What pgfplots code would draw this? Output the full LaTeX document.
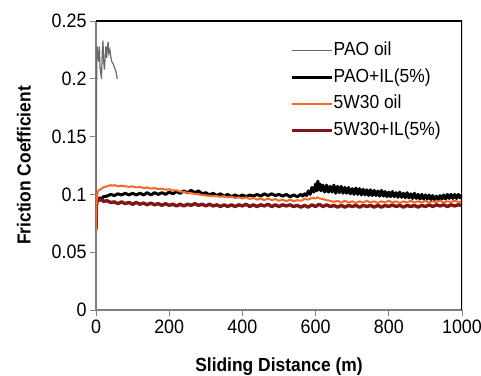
\documentclass[border=0pt]{standalone}
\usepackage{pgfplots}
\pgfplotsset{compat=1.18}
\usepackage{fontspec}
\setmainfont[FakeStretch=0.92]{Liberation Sans}
\definecolor{paogray}{RGB}{105,105,105}
\definecolor{oilorange}{RGB}{245,105,35}
\definecolor{oilred}{RGB}{128,22,22}
\definecolor{axgray}{RGB}{128,128,128}
\begin{document}
\begin{tikzpicture}
\useasboundingbox (-96bp,-66bp) rectangle (385bp,310bp);
\begin{axis}[
  scale only axis,
  width=366bp, height=289bp,
  xmin=0, xmax=1000, ymin=0, ymax=0.25,
  axis x line*=bottom, axis y line*=left,
  axis line style={axgray, line width=1.2pt, -},
  tick style={axgray, line width=1pt},
  tick align=outside,
  major tick length=6bp,
  xtick={0,200,400,600,800,1000},
  ytick={0,0.05,0.1,0.15,0.2,0.25},
  yticklabel style={/pgf/number format/fixed, /pgf/number format/precision=2},
  xticklabel style={/pgf/number format/set thousands separator={}},
  /pgf/number format/assume math mode=true,
  tick label style={font=\fontsize{19.5}{22}\selectfont, black},
  xlabel={Sliding Distance (m)},
  ylabel={Friction Coefficient},
  label style={font=\fontsize{19}{22}\selectfont\bfseries},
  xlabel style={at={(axis description cs:0.5,-0.197)}, anchor=center},
  ylabel style={at={(axis description cs:-0.197,0.5)}, anchor=center, rotate=0},
  legend style={draw=none, fill=none, at={(axis cs:531,0.232)}, anchor=north west,
    font=\fontsize{19}{22}\selectfont, row sep=9bp, inner sep=0pt,
    nodes={inner sep=0pt, text height=13.5bp, text depth=4bp},
    /tikz/every even column/.append style={column sep=3bp}},
  legend cell align=left,
  legend image code/.code={\draw[#1] (0bp,0bp) -- (40bp,0bp);},
  clip=true,
]
\addlegendimage{paogray, line width=1.2pt}
\addlegendentry{PAO oil}
\addlegendimage{black, line width=3.2pt}
\addlegendentry{PAO+IL(5\%)}
\addlegendimage{oilorange, line width=1.5pt}
\addlegendentry{5W30 oil}
\addlegendimage{oilred, line width=3.2pt}
\addlegendentry{5W30+IL(5\%)}
\addplot[paogray, line width=1.2pt, forget plot] coordinates {
(0,0.10) (1,0.16) (2,0.21) (3,0.228) (5,0.222) (7,0.215) (9,0.228) (11,0.21) (13,0.205) (15,0.2) (17,0.222) (19,0.233) (21,0.215) (23,0.208) (25,0.218) (27,0.228) (29,0.218) (31,0.226) (33,0.232) (35,0.222) (38,0.225) (41,0.218) (44,0.214) (47,0.213) (50,0.21) (53,0.208) (56,0.204) (58,0.2)
};
\addplot[black, line width=3pt, line join=round, forget plot] coordinates {
(0,0.088) (3,0.094) (6,0.096) (10,0.097) (15,0.096) (20,0.098) (30,0.0985) (40,0.1) (50,0.099) (60,0.1005) (70,0.0995) (80,0.101) (90,0.0995) (100,0.101) (110,0.0995) (120,0.101) (130,0.0995) (140,0.1015) (150,0.0995) (160,0.1015) (170,0.1) (180,0.1015) (190,0.1) (200,0.102) (210,0.1005) (220,0.1025) (230,0.101) (240,0.103) (250,0.1015) (260,0.1035) (270,0.1015) (280,0.103) (290,0.1005) (300,0.1015) (310,0.0995) (320,0.101) (330,0.099) (340,0.1005) (350,0.0985) (360,0.1) (370,0.098) (380,0.0995) (390,0.098) (400,0.0995) (410,0.098) (420,0.0995) (430,0.0985) (440,0.1) (450,0.0985) (460,0.1005) (470,0.099) (480,0.1005) (490,0.099) (500,0.1) (510,0.0985) (520,0.1) (530,0.098) (540,0.0995) (550,0.098) (560,0.1) (565,0.0985) (570,0.1005) (575,0.099) (580,0.103) (585,0.1) (590,0.106) (595,0.102) (600,0.109) (603,0.103) (606,0.1115) (609,0.104) (612,0.109) (615,0.103) (620,0.108) (625,0.102) (630,0.108) (635,0.102) (640,0.107) (645,0.102) (650,0.108) (655,0.101) (660,0.107) (665,0.1015) (670,0.107) (675,0.101) (680,0.106) (685,0.101) (690,0.106) (695,0.1005) (700,0.105) (705,0.1) (710,0.1055) (715,0.1) (720,0.105) (725,0.0995) (730,0.1045) (735,0.0995) (740,0.104) (745,0.099) (750,0.104) (755,0.099) (760,0.1035) (765,0.099) (770,0.103) (775,0.0985) (780,0.1035) (785,0.0985) (790,0.1025) (795,0.098) (800,0.102) (805,0.098) (810,0.1025) (815,0.098) (820,0.1015) (825,0.0975) (830,0.102) (835,0.0975) (840,0.101) (845,0.097) (850,0.1015) (855,0.097) (860,0.1005) (865,0.0965) (870,0.101) (875,0.0965) (880,0.1) (885,0.096) (890,0.1) (895,0.096) (900,0.0995) (905,0.096) (910,0.0995) (915,0.0955) (920,0.099) (925,0.0955) (930,0.0985) (935,0.0955) (940,0.099) (945,0.096) (950,0.0995) (955,0.096) (960,0.1) (965,0.0965) (970,0.1) (975,0.0965) (980,0.1) (985,0.0965) (990,0.1) (995,0.097) (1000,0.0995)
};
\addplot[oilred, line width=3.4pt, line join=round, forget plot] coordinates {
(0,0.069) (1,0.085) (2,0.097) (5,0.0965) (10,0.095) (15,0.0955) (20,0.094) (30,0.0945) (40,0.093) (50,0.0935) (60,0.092) (70,0.0935) (80,0.092) (90,0.093) (100,0.0915) (110,0.093) (120,0.0915) (130,0.0925) (140,0.091) (150,0.0925) (160,0.091) (170,0.092) (180,0.0905) (190,0.092) (200,0.0905) (210,0.0915) (220,0.09) (230,0.0915) (240,0.09) (250,0.0915) (260,0.0905) (270,0.092) (280,0.0905) (290,0.0915) (300,0.09) (310,0.0915) (320,0.09) (330,0.091) (340,0.0895) (350,0.091) (360,0.0895) (370,0.091) (380,0.0895) (390,0.091) (400,0.09) (410,0.0915) (420,0.0895) (430,0.091) (440,0.0895) (450,0.091) (460,0.09) (470,0.0915) (480,0.0895) (490,0.091) (500,0.0895) (510,0.091) (520,0.09) (530,0.091) (540,0.0895) (550,0.0905) (560,0.089) (570,0.0905) (580,0.089) (590,0.091) (600,0.0895) (610,0.0915) (620,0.0895) (630,0.091) (640,0.0895) (650,0.0905) (660,0.089) (670,0.0905) (680,0.089) (690,0.0905) (700,0.0895) (710,0.0905) (720,0.089) (730,0.0905) (740,0.0895) (750,0.0905) (760,0.089) (770,0.0905) (780,0.089) (790,0.0905) (800,0.0895) (810,0.091) (820,0.0895) (830,0.0905) (840,0.089) (850,0.0905) (860,0.0895) (870,0.0905) (880,0.089) (890,0.0905) (900,0.0895) (910,0.091) (920,0.0895) (930,0.091) (940,0.09) (950,0.091) (960,0.0895) (970,0.091) (980,0.09) (990,0.091) (1000,0.0905)
};
\addplot[oilorange, line width=2pt, line join=round, forget plot] coordinates {
(0,0.069) (1,0.09) (3,0.1) (6,0.103) (10,0.104) (15,0.105) (20,0.106) (25,0.1065) (30,0.107) (35,0.1075) (40,0.108) (45,0.1075) (50,0.108) (60,0.107) (70,0.1075) (80,0.107) (90,0.1065) (100,0.107) (110,0.106) (120,0.1065) (130,0.1055) (140,0.106) (150,0.105) (160,0.1055) (170,0.1045) (180,0.105) (190,0.104) (200,0.1045) (210,0.1035) (220,0.1035) (230,0.1025) (240,0.102) (250,0.1015) (260,0.101) (270,0.1005) (280,0.1) (290,0.0995) (300,0.099) (310,0.099) (320,0.0985) (330,0.0985) (340,0.098) (350,0.0985) (360,0.0975) (370,0.098) (380,0.097) (390,0.0975) (400,0.0965) (410,0.0975) (420,0.096) (430,0.097) (440,0.0955) (450,0.0965) (460,0.095) (470,0.0965) (480,0.095) (490,0.096) (500,0.0945) (510,0.0955) (520,0.094) (530,0.0955) (540,0.094) (550,0.095) (560,0.0945) (570,0.096) (580,0.0955) (590,0.097) (600,0.0965) (605,0.0975) (610,0.0965) (620,0.096) (630,0.095) (640,0.0945) (650,0.0935) (660,0.0945) (670,0.093) (680,0.0945) (690,0.093) (700,0.094) (710,0.0925) (720,0.094) (730,0.093) (740,0.0945) (750,0.093) (760,0.094) (770,0.0925) (780,0.094) (790,0.093) (800,0.0945) (810,0.093) (820,0.094) (830,0.0925) (840,0.094) (850,0.093) (860,0.0945) (870,0.093) (880,0.094) (890,0.093) (900,0.0945) (910,0.093) (920,0.094) (930,0.0935) (940,0.0945) (950,0.093) (960,0.094) (970,0.0935) (980,0.0945) (990,0.0935) (1000,0.094)
};
\draw[black, line width=1.2pt] (rel axis cs:0,1) -- (rel axis cs:1,1) -- (rel axis cs:1,0);
\end{axis}
\end{tikzpicture}
\end{document}
